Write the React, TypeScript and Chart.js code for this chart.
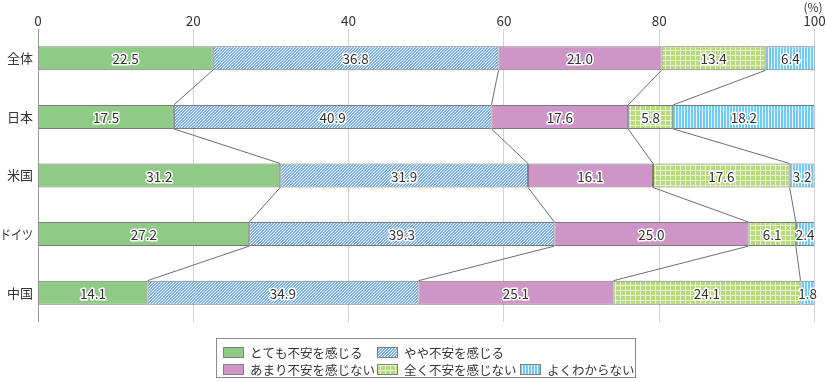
import React, { useEffect, useRef } from "react";
import { Chart, registerables } from "chart.js";

Chart.register(...registerables);

const categories = ["全体", "日本", "米国", "ドイツ", "中国"];
const seriesNames = [
  "とても不安を感じる",
  "やや不安を感じる",
  "あまり不安を感じない",
  "全く不安を感じない",
  "よくわからない",
];
const veryAnxious = [22.5, 17.5, 31.2, 27.2, 14.1];
const somewhatAnxious = [36.8, 40.9, 31.9, 39.3, 34.9];
const notVeryAnxious = [21.0, 17.6, 16.1, 25.0, 25.1];
const notAtAllAnxious = [13.4, 5.8, 17.6, 6.1, 24.1];
const dontKnow = [6.4, 18.2, 3.2, 2.4, 1.8];
const xTickValues = [0, 20, 40, 60, 80, 100];
const unitLabel = "(%)";

const FONT = "'Noto Sans CJK JP', 'Noto Sans', sans-serif";

function makeTile(w: number, h: number, draw: (c: CanvasRenderingContext2D) => void) {
  const cv = document.createElement("canvas");
  cv.width = w;
  cv.height = h;
  const c = cv.getContext("2d")!;
  draw(c);
  return cv;
}

function makeFills(ctx: CanvasRenderingContext2D) {
  const green = "#8fcb87";
  const pink = "#cd96c7";
  const diag = makeTile(3, 3, (c) => {
    c.fillStyle = "#f2f8fe";
    c.fillRect(0, 0, 3, 3);
    c.fillStyle = "#7db2e8";
    for (let x = 0; x < 3; x++)
      for (let y = 0; y < 3; y++) {
        if ((x + y) % 3 < 2) c.fillRect(x, y, 1, 1);
      }
  });
  const grid = makeTile(5, 5, (c) => {
    c.fillStyle = "#b8da7c";
    c.fillRect(0, 0, 5, 5);
    c.fillStyle = "#e6f3d0";
    c.fillRect(0, 0, 5, 1);
    c.fillRect(0, 0, 1, 5);
  });
  const vert = makeTile(3, 3, (c) => {
    c.fillStyle = "#72cbf3";
    c.fillRect(0, 0, 3, 3);
    c.fillStyle = "#e3f5fd";
    c.fillRect(0, 0, 1, 3);
  });
  return [
    green,
    ctx.createPattern(diag, "repeat")!,
    pink,
    ctx.createPattern(grid, "repeat")!,
    ctx.createPattern(vert, "repeat")!,
  ];
}

export default function App() {
  const ref = useRef<HTMLCanvasElement | null>(null);

  useEffect(() => {
    const canvas = ref.current!;
    const ctx = canvas.getContext("2d")!;
    const fills = makeFills(ctx);
    const seriesData = [veryAnxious, somewhatAnxious, notVeryAnxious, notAtAllAnxious, dontKnow];

    const overlay = {
      id: "overlay",
      afterDatasetsDraw(chart: any) {
        const c = chart.ctx as CanvasRenderingContext2D;
        const metas = chart.data.datasets.map((_: any, i: number) => chart.getDatasetMeta(i));
        // connectors
        c.save();
        c.strokeStyle = "#6e6e6e";
        c.lineWidth = 1;
        for (let r = 0; r < categories.length - 1; r++) {
          for (let k = 0; k < metas.length - 1; k++) {
            const a = metas[k].data[r].getProps(["x", "y", "height"], true);
            const b = metas[k].data[r + 1].getProps(["x", "y", "height"], true);
            c.beginPath();
            c.moveTo(a.x, a.y + a.height / 2);
            c.lineTo(b.x, b.y - b.height / 2);
            c.stroke();
          }
        }
        c.restore();
        // value labels
        c.save();
        c.font = `13.5px ${FONT}`;
        c.textAlign = "center";
        c.textBaseline = "middle";
        c.lineJoin = "round";
        metas.forEach((m: any, k: number) => {
          m.data.forEach((el: any, r: number) => {
            const p = el.getProps(["x", "y", "base"], true);
            const cx = (p.x + p.base) / 2;
            const txt = seriesData[k][r].toFixed(1);
            c.strokeStyle = "#ffffff";
            c.lineWidth = 3;
            c.strokeText(txt, cx, p.y + 1);
            c.fillStyle = "#333333";
            c.fillText(txt, cx, p.y + 1);
          });
        });
        c.restore();
        // category labels
        c.save();
        c.font = `13px ${FONT}`;
        c.fillStyle = "#333";
        c.textAlign = "right";
        c.textBaseline = "middle";
        const yScale = chart.scales.y;
        categories.forEach((lab, i) => {
          const y = yScale.getPixelForValue(i);
          c.fillText(lab, 33, y, 33);
        });
        c.restore();
      },
      afterDraw(chart: any) {
        const c = chart.ctx as CanvasRenderingContext2D;
        c.save();
        // unit label
        c.font = `12px ${FONT}`;
        c.fillStyle = "#333";
        c.textAlign = "center";
        c.textBaseline = "middle";
        c.fillText(unitLabel, 813, 7);
        // legend
        c.strokeStyle = "#8a8a8a";
        c.lineWidth = 1;
        c.strokeRect(216.5, 338.5, 419, 39);
        const items = [
          { i: 0, x: 223, y: 352 },
          { i: 1, x: 377, y: 352 },
          { i: 2, x: 223, y: 369 },
          { i: 3, x: 377, y: 369 },
          { i: 4, x: 520, y: 369 },
        ];
        c.font = `12.5px ${FONT}`;
        c.textAlign = "left";
        items.forEach((it) => {
          c.fillStyle = fills[it.i] as any;
          c.fillRect(it.x, it.y - 5, 21, 11);
          c.strokeStyle = "#808080";
          c.strokeRect(it.x + 0.5, it.y - 4.5, 20, 10);
          c.fillStyle = "#333";
          c.fillText(seriesNames[it.i], it.x + 27, it.y + 1);
        });
        c.restore();
      },
    };

    const chart = new Chart(ctx, {
      type: "bar",
      data: {
        labels: categories,
        datasets: seriesData.map((d, k) => ({
          label: seriesNames[k],
          data: d,
          backgroundColor: fills[k] as any,
          borderColor: "#7a7a7a",
          borderWidth: 1,
          borderSkipped: false,
          barPercentage: 0.41,
          categoryPercentage: 1,
        })),
      },
      options: {
        indexAxis: "y",
        responsive: false,
        animation: false,
        events: [],
        layout: { padding: { top: 0, left: 0, right: 11.5, bottom: 60 } },
        plugins: {
          legend: { display: false },
          tooltip: { enabled: false },
        },
        scales: {
          x: {
            type: "linear",
            position: "top",
            stacked: true,
            min: 0,
            max: 100,
            afterBuildTicks: (s: any) => {
              s.ticks = xTickValues.map((v) => ({ value: v }));
            },
            ticks: { color: "#333", font: { size: 13.5, family: FONT }, padding: 0 },
            grid: {
              drawTicks: false,
              color: (c: any) => (c.tick && c.tick.value === 0 ? "#9a9a9a" : "#d2d2d2"),
              lineWidth: 1,
            },
            border: { display: false },
            afterFit: (s: any) => {
              s.height = 29;
              s.paddingLeft = 0;
              s.paddingRight = 0;
            },
          },
          y: {
            stacked: true,
            grid: { display: false, drawTicks: false },
            border: { display: false },
            ticks: { display: false },
            afterFit: (s: any) => {
              s.width = 38;
            },
          },
        },
      },
      plugins: [overlay],
    } as any);

    return () => chart.destroy();
  }, []);

  return (
    <div style={{ position: "absolute", left: 0, top: 0, width: 826, height: 382, background: "#fff" }}>
      <canvas ref={ref} width={826} height={382} style={{ display: "block" }} />
    </div>
  );
}
